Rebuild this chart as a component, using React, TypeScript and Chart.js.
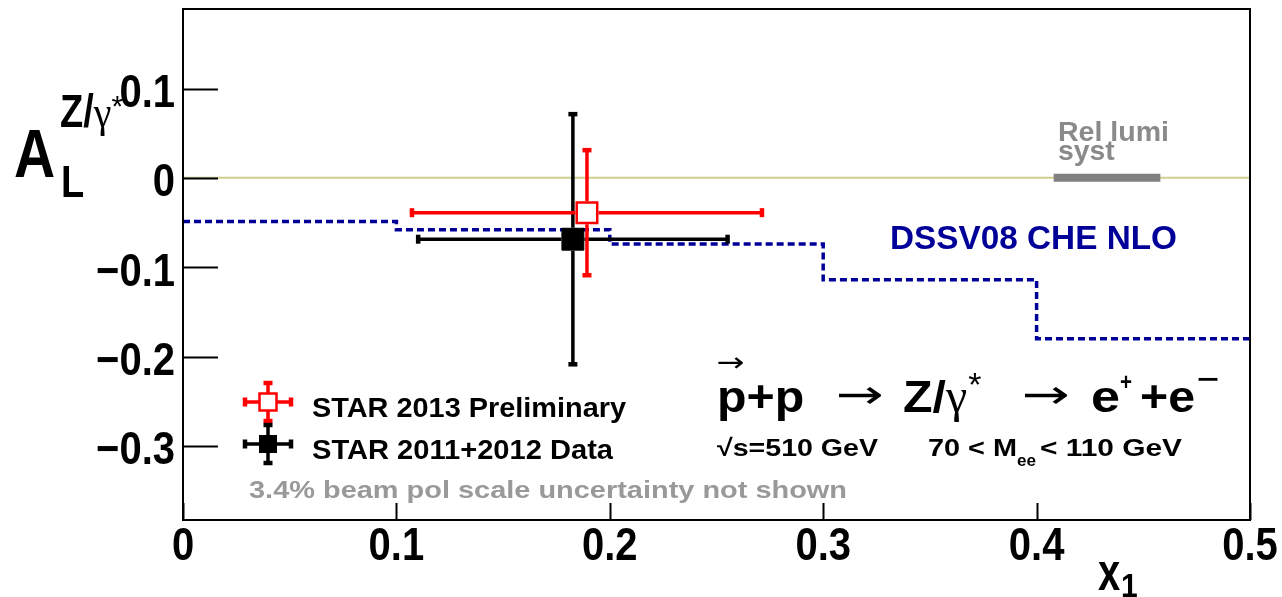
import { useEffect, useRef } from 'react';
import { Chart, registerables } from 'chart.js';

Chart.register(...registerables);

// Axis ranges and ticks
const X_MIN = 0;
const X_MAX = 0.5;
const Y_MIN = -0.383;
const Y_MAX = 0.189;
const X_TICKS = [0, 0.1, 0.2, 0.3, 0.4, 0.5];
const X_TICK_LABELS = ['0', '0.1', '0.2', '0.3', '0.4', '0.5'];
const Y_TICKS = [-0.3, -0.2, -0.1, 0, 0.1];
const Y_TICK_LABELS = ['\u22120.3', '\u22120.2', '\u22120.1', '0', '0.1'];

// DSSV08 CHE NLO prediction: value held from each bin edge to the next
const THEORY_X = [0, 0.1, 0.2, 0.3, 0.4, 0.5];
const THEORY_Y = [-0.049, -0.058, -0.074, -0.114, -0.18, -0.18];

// STAR 2013 preliminary
const STAR13_X = [0.1893];
const STAR13_Y = [-0.039];
const STAR13_XERR = [0.082];
const STAR13_YERR = [0.07];

// STAR 2011+2012 data
const STAR1112_X = [0.1827];
const STAR1112_Y = [-0.0687];
const STAR1112_XERR = [0.0725];
const STAR1112_YERR = [0.14];

// Relative luminosity systematic band (x extent, drawn at A_L = 0)
const REL_LUMI_X = [0.408, 0.458];

const SANS = '"Liberation Sans", Arial, Helvetica, sans-serif';
const SERIF = '"Liberation Serif", "Times New Roman", serif';
const RED = '#ff0000';
const BLUE = '#000099';
const GRAY = '#8a8a8a';

type TextOpts = {
  size: number;
  color?: string;
  align?: CanvasTextAlign;
  bold?: boolean;
  family?: string;
  sx?: number;
  sy?: number;
  width?: number;
};

function text(ctx: CanvasRenderingContext2D, s: string, x: number, y: number, o: TextOpts): number {
  ctx.save();
  ctx.font = `${o.bold === false ? '' : 'bold '}${o.size}px ${o.family ?? SANS}`;
  const w = ctx.measureText(s).width;
  const sx = o.width ? o.width / w : o.sx ?? 1;
  ctx.translate(x, y);
  ctx.scale(sx, o.sy ?? 1);
  ctx.textAlign = o.align ?? 'left';
  ctx.textBaseline = 'alphabetic';
  ctx.fillStyle = o.color ?? '#000';
  ctx.fillText(s, 0, 0);
  ctx.restore();
  return w * sx;
}

// Error bar cross with end caps; bars start at the marker edge
function cross(
  ctx: CanvasRenderingContext2D,
  px: number, py: number,
  x0: number, x1: number, y0: number, y1: number,
  half: number, color: string, lw: number, cap: number
) {
  ctx.save();
  ctx.strokeStyle = color;
  ctx.fillStyle = color;
  ctx.lineWidth = lw;
  ctx.lineCap = 'butt';
  ctx.beginPath();
  ctx.moveTo(x0, py); ctx.lineTo(px - half, py);
  ctx.moveTo(px + half, py); ctx.lineTo(x1, py);
  ctx.moveTo(px, y0); ctx.lineTo(px, py - half);
  ctx.moveTo(px, py + half); ctx.lineTo(px, y1);
  ctx.stroke();
  const t = lw + 1;
  ctx.fillRect(x0 - t / 2, py - cap / 2, t, cap);
  ctx.fillRect(x1 - t / 2, py - cap / 2, t, cap);
  ctx.fillRect(px - cap / 2, y0 - t / 2, cap, t);
  ctx.fillRect(px - cap / 2, y1 - t / 2, cap, t);
  ctx.restore();
}

const errorBarPlugin = {
  id: 'errorBars',
  beforeDatasetDraw(chart: any, args: any) {
    const ds = chart.data.datasets[args.index];
    if (!ds.errors) return;
    const xs = chart.scales.x;
    const ys = chart.scales.y;
    ds.data.forEach((p: any, i: number) => {
      const e = ds.errors[i];
      cross(
        chart.ctx,
        xs.getPixelForValue(p.x), ys.getPixelForValue(p.y),
        xs.getPixelForValue(p.x - e.x), xs.getPixelForValue(p.x + e.x),
        ys.getPixelForValue(p.y + e.y), ys.getPixelForValue(p.y - e.y),
        11.5, ds.barColor, 3.5, 9
      );
    });
  },
};

function legendMarker(ctx: CanvasRenderingContext2D, x: number, y: number, color: string, open: boolean) {
  cross(ctx, x, y, x - 23, x + 23, y - 19, y + 19, 8.5, color, 3.5, 9);
  ctx.save();
  if (open) {
    ctx.fillStyle = '#fff';
    ctx.fillRect(x - 8.5, y - 8.5, 17, 17);
    ctx.strokeStyle = color;
    ctx.lineWidth = 2.5;
    ctx.strokeRect(x - 8.5, y - 8.5, 17, 17);
  } else {
    ctx.fillStyle = color;
    ctx.fillRect(x - 9, y - 9, 18, 18);
  }
  ctx.restore();
}

const framePlugin = {
  id: 'frame',
  afterDraw(chart: any) {
    const ctx: CanvasRenderingContext2D = chart.ctx;
    const { left, right, top, bottom } = chart.chartArea;
    const xs = chart.scales.x;
    const ys = chart.scales.y;

    // frame and inward ticks
    ctx.save();
    ctx.strokeStyle = '#000';
    ctx.lineWidth = 2;
    ctx.strokeRect(left, top, right - left, bottom - top);
    ctx.beginPath();
    Y_TICKS.forEach((v) => {
      const y = Math.round(ys.getPixelForValue(v)) + 0.5;
      ctx.moveTo(left, y);
      ctx.lineTo(left + 35, y);
    });
    X_TICKS.forEach((v) => {
      const x = Math.round(xs.getPixelForValue(v)) + 0.5;
      ctx.moveTo(x, bottom);
      ctx.lineTo(x, bottom - 17);
    });
    ctx.lineWidth = 2;
    ctx.stroke();
    ctx.restore();

    // y axis title A_L^{Z/γ*}
    text(ctx, 'A', 14, 177, { size: 57, sy: 1.2 });
    text(ctx, 'L', 61, 197, { size: 38, sy: 1.15 });
    const wz = text(ctx, 'Z/', 60, 127, { size: 38, sy: 1.2 });
    const wg = text(ctx, '\u03b3', 60 + wz, 127, { size: 40, family: SERIF, bold: false, sy: 1.1 });
    text(ctx, '*', 60 + wz + wg, 116, { size: 30, bold: false });

    // tick labels
    Y_TICKS.forEach((v, i) => {
      text(ctx, Y_TICK_LABELS[i], left - 8, ys.getPixelForValue(v) + 18.5, { size: 40, sy: 1.15, align: 'right' });
    });
    X_TICKS.forEach((v, i) => {
      text(ctx, X_TICK_LABELS[i], xs.getPixelForValue(v), 560, { size: 40, sy: 1.15, align: 'center' });
    });

    // x axis title x_1
    text(ctx, 'x', 1098, 590, { size: 40, sy: 1.3 });
    text(ctx, '1', 1121, 597, { size: 30, sy: 1.1 });

    // relative luminosity label
    text(ctx, 'Rel lumi', 1058, 141, { size: 27, color: GRAY, width: 111 });
    text(ctx, 'syst', 1058, 160, { size: 27, color: GRAY, sx: 1.05 });

    // theory label
    text(ctx, 'DSSV08 CHE NLO', 890, 249, { size: 31, color: BLUE, width: 287, sy: 1.05 });

    // legend
    legendMarker(ctx, 268, 402, RED, true);
    legendMarker(ctx, 268, 444, '#000', false);
    text(ctx, 'STAR 2013 Preliminary', 312, 417, { size: 28, width: 314 });
    text(ctx, 'STAR 2011+2012 Data', 312, 459, { size: 28, width: 301 });
    text(ctx, '3.4% beam pol scale uncertainty not shown', 249, 498, { size: 24, color: '#999', width: 598 });

    // reaction
    const base = 412;
    const arrowFont = '"DejaVu Sans", sans-serif';
    const pw = text(ctx, 'p', 717, base, { size: 46, sy: 0.98, sx: 1.05 });
    text(ctx, '\u2192', 717 + pw / 2 - 1, 371, { size: 26, family: arrowFont, align: 'center', bold: false, width: 28 });
    text(ctx, '+p', 717 + pw, base, { size: 46, sy: 0.98, sx: 1.05 });
    text(ctx, '\u2192', 836, base - 4, { size: 40, family: arrowFont, bold: false, width: 48 });
    const wz2 = text(ctx, 'Z/', 903, base, { size: 46, sy: 0.98, sx: 1.05 });
    const wg2 = text(ctx, '\u03b3', 903 + wz2, base, { size: 48, family: SERIF, bold: false });
    text(ctx, '*', 903 + wz2 + wg2 + 1, base - 16, { size: 34, bold: false });
    text(ctx, '\u2192', 1022, base - 4, { size: 40, family: arrowFont, bold: false, width: 48 });
    text(ctx, 'e', 1091, base, { size: 46, sy: 0.98, width: 29 });
    text(ctx, '+', 1120, base - 22, { size: 24, width: 12 });
    text(ctx, '+e', 1140, base, { size: 46, sy: 0.98, width: 55 });
    text(ctx, '\u2212', 1197, base - 24, { size: 26, width: 22 });

    text(ctx, '\u221As=510 GeV', 717, 456, { size: 24, width: 161 });
    const w70 = text(ctx, '70 < M', 928, 456, { size: 24, width: 89 });
    text(ctx, 'ee', 928 + w70, 466, { size: 17, width: 19 });
    text(ctx, '< 110 GeV', 1040, 456, { size: 24, width: 142 });
  },
};

export default function App() {
  const ref = useRef<HTMLCanvasElement>(null);

  useEffect(() => {
    const chart = new Chart(ref.current as HTMLCanvasElement, {
      type: 'scatter',
      data: {
        datasets: [
          {
            type: 'line',
            label: 'zero',
            data: [{ x: X_MIN, y: 0 }, { x: X_MAX, y: 0 }],
            borderColor: '#cfcf90',
            borderWidth: 2,
            pointRadius: 0,
            order: 6,
          },
          {
            type: 'line',
            label: 'Rel lumi syst',
            data: REL_LUMI_X.map((x) => ({ x, y: 0 })),
            borderColor: '#808080',
            borderWidth: 8,
            borderCapStyle: 'butt',
            pointRadius: 0,
            order: 5,
          },
          {
            type: 'line',
            label: 'DSSV08 CHE NLO',
            data: THEORY_X.map((x, i) => ({ x, y: THEORY_Y[i] })),
            stepped: true,
            borderColor: BLUE,
            borderWidth: 3.5,
            borderDash: [7, 4],
            pointRadius: 0,
            order: 4,
          },
          {
            label: 'STAR 2011+2012 Data',
            data: STAR1112_X.map((x, i) => ({ x, y: STAR1112_Y[i] })),
            errors: STAR1112_X.map((_, i) => ({ x: STAR1112_XERR[i], y: STAR1112_YERR[i] })),
            barColor: '#000',
            pointStyle: 'rect',
            pointRadius: 15.5,
            backgroundColor: '#000',
            borderColor: '#000',
            borderWidth: 1,
            order: 3,
          } as any,
          {
            label: 'STAR 2013 Preliminary',
            data: STAR13_X.map((x, i) => ({ x, y: STAR13_Y[i] })),
            errors: STAR13_X.map((_, i) => ({ x: STAR13_XERR[i], y: STAR13_YERR[i] })),
            barColor: RED,
            pointStyle: 'rect',
            pointRadius: 14.5,
            backgroundColor: '#fff',
            borderColor: RED,
            borderWidth: 2.5,
            order: 2,
          } as any,
        ],
      },
      options: {
        animation: false,
        responsive: false,
        maintainAspectRatio: false,
        events: [],
        layout: { autoPadding: false, padding: { left: 183, right: 32, top: 9, bottom: 77 } },
        plugins: { legend: { display: false }, tooltip: { enabled: false } },
        scales: {
          x: { type: 'linear', min: X_MIN, max: X_MAX, display: false },
          y: { type: 'linear', min: Y_MIN, max: Y_MAX, display: false },
        },
      },
      plugins: [errorBarPlugin, framePlugin],
    });
    return () => chart.destroy();
  }, []);

  return (
    <div style={{ position: 'absolute', left: 0, top: 0, width: 1282, height: 597, background: '#fff' }}>
      <canvas ref={ref} width={1282} height={597} style={{ display: 'block' }} />
    </div>
  );
}
